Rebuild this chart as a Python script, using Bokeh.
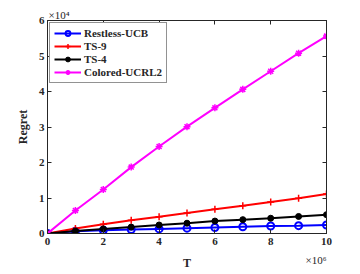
from bokeh.plotting import figure
from bokeh.models import Range1d, LinearAxis, FixedTicker, Legend, LegendItem, CustomLabelingPolicy, Title
from bokeh.embed import file_html
from bokeh.resources import INLINE

T = [0, 1, 2, 3, 4, 5, 6, 7, 8, 9, 10]
restless_ucb = [0, 0.06, 0.09, 0.11, 0.13, 0.15, 0.17, 0.19, 0.21, 0.22, 0.24]
ts9 = [0, 0.14, 0.26, 0.37, 0.47, 0.58, 0.68, 0.78, 0.89, 0.99, 1.11]
ts4 = [0, 0.07, 0.13, 0.18, 0.24, 0.29, 0.35, 0.39, 0.43, 0.48, 0.53]
colored_ucrl2 = [0, 0.65, 1.24, 1.87, 2.45, 3.01, 3.54, 4.06, 4.57, 5.08, 5.56]
x_ticks = [0, 2, 4, 6, 8, 10]
y_ticks = [0, 1, 2, 3, 4, 5, 6]

FONT = "Liberation Serif"
AX = "#262626"

p = figure(width=360, height=274, output_backend="svg", toolbar_location=None,
           x_range=Range1d(0, 10), y_range=Range1d(0, 6),
           min_border_left=47, min_border_right=34, min_border_top=20, min_border_bottom=41)
p.xgrid.visible = False
p.ygrid.visible = False
p.outline_line_color = AX
p.outline_line_width = 1
p.background_fill_color = "white"
p.border_fill_color = "white"

p.title.text = "×10⁴"
p.title.align = "left"
p.title.text_font = FONT
p.title.text_font_size = "11px"
p.title.text_font_style = "normal"
p.title.text_color = AX
p.title.offset = 1
p.title.standoff = 0

def style_axis(ax):
    ax.major_tick_in = 4
    ax.major_tick_out = 0
    ax.minor_tick_line_color = None
    ax.axis_line_color = AX
    ax.major_tick_line_color = AX
    ax.major_label_text_font = FONT
    ax.major_label_text_font_style = "bold"
    ax.major_label_text_font_size = "11px"
    ax.major_label_text_color = AX
    ax.axis_label_text_font = FONT
    ax.axis_label_text_font_style = "bold"
    ax.axis_label_text_font_size = "12px"
    ax.axis_label_text_color = AX

xa = p.xaxis[0]
ya = p.yaxis[0]
style_axis(xa)
style_axis(ya)
xa.ticker = FixedTicker(ticks=x_ticks)
ya.ticker = FixedTicker(ticks=y_ticks)
xa.axis_label = "T"
ya.axis_label = "Regret"
xa.major_label_standoff = 4
ya.major_label_standoff = 3
xa.axis_label_standoff = 8
ya.axis_label_standoff = 6

HIDE = """
try { for (let i = 0; i < indices.size; i++) { indices.set(i, false) } } catch (e) {}
return indices
"""
top = LinearAxis(ticker=FixedTicker(ticks=x_ticks), major_label_policy=CustomLabelingPolicy(code=HIDE),
                 major_label_overrides={t: "" for t in x_ticks})
right = LinearAxis(ticker=FixedTicker(ticks=y_ticks), major_label_policy=CustomLabelingPolicy(code=HIDE),
                   major_label_overrides={t: "" for t in y_ticks})
style_axis(top)
style_axis(right)
top.major_label_standoff = 0
right.major_label_standoff = 0
p.add_layout(top, "above")
p.add_layout(right, "right")

r1 = p.line(T, restless_ucb, line_color="blue", line_width=2)
m1 = p.scatter(T, restless_ucb, marker="circle", size=7, line_color="blue", fill_color=None, line_width=2)
r2 = p.line(T, ts9, line_color="red", line_width=2)
m2 = p.scatter(T, ts9, marker="cross", size=7, line_color="red", line_width=1.5)
r3 = p.line(T, ts4, line_color="black", line_width=2)
m3 = p.scatter(T, ts4, marker="circle", size=6, line_color="black", fill_color="black")
r4 = p.line(T, colored_ucrl2, line_color="magenta", line_width=2)
m4 = p.scatter(T, colored_ucrl2, marker="asterisk", size=7, line_color="magenta", line_width=1.5)

legend = Legend(items=[
    LegendItem(label="Restless-UCB", renderers=[r1, m1]),
    LegendItem(label="TS-9", renderers=[r2, m2]),
    LegendItem(label="TS-4", renderers=[r3, m3]),
    LegendItem(label="Colored-UCRL2", renderers=[r4, m4]),
], location="top_left")
legend.label_text_font = FONT
legend.label_text_font_style = "bold"
legend.label_text_font_size = "11px"
legend.label_text_color = AX
legend.label_height = 12
legend.glyph_height = 12
legend.glyph_width = 27
legend.spacing = 1
legend.padding = 4
legend.margin = 2
legend.label_standoff = 3
legend.border_line_color = AX
legend.border_line_width = 1
legend.background_fill_alpha = 1
p.add_layout(legend)

xmult = Title(text="×10⁶", align="right", vertical_align="top", standoff=-38, offset=0,
              text_font=FONT, text_font_size="11px", text_font_style="normal", text_color=AX)
p.add_layout(xmult, "below")

open("out.html", "w").write(file_html(p, INLINE))
